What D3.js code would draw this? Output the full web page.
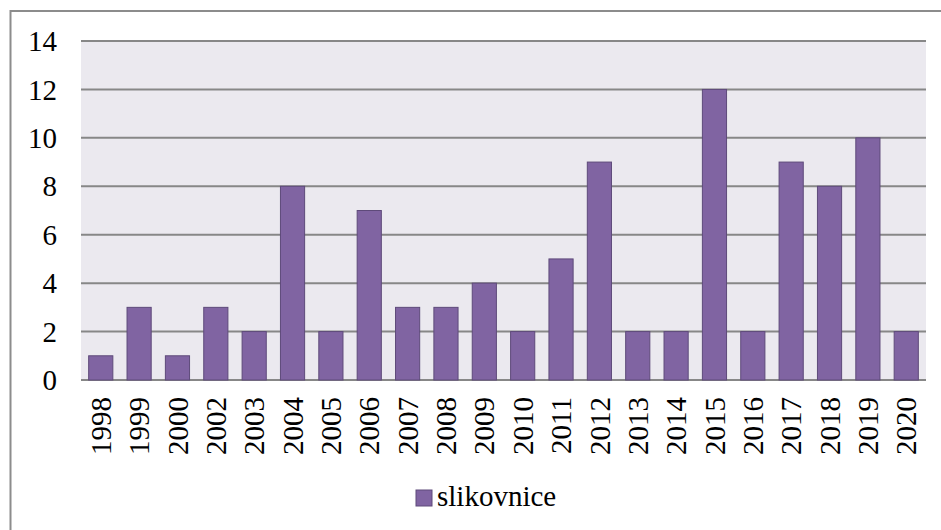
<!DOCTYPE html>
<html>
<head>
<meta charset="utf-8">
<script src="https://cdn.jsdelivr.net/npm/d3@7"></script>
<style>
body { margin: 0; background: #fff; }
svg text { font-family: "Liberation Serif", "Times New Roman", Times, serif; fill: #000; }
</style>
</head>
<body>
<div id="box"></div>
<script>
var years = ["1998", "1999", "2000", "2002", "2003", "2004", "2005", "2006", "2007", "2008", "2009",
             "2010", "2011", "2012", "2013", "2014", "2015", "2016", "2017", "2018", "2019", "2020"];
var counts = [1, 3, 1, 3, 2, 8, 2, 7, 3, 3, 4, 2, 5, 9, 2, 2, 12, 2, 9, 8, 10, 2];
var yTicks = [0, 2, 4, 6, 8, 10, 12, 14];
var seriesName = "slikovnice";

var w = 941,
    h = 530;
var plotLeft = 81, plotRight = 926, plotTop = 41, plotBottom = 380;
var serif = "'Liberation Serif', 'Times New Roman', Times, serif";

var svg = d3.select("#box")
            .append("svg")
            .attr("width", w)
            .attr("height", h)
            .attr("font-family", serif);

// outer chart border (runs off the right and bottom)
svg.append("rect")
   .attr("x", 10.5).attr("y", 11)
   .attr("width", 1000).attr("height", 1000)
   .attr("fill", "none")
   .attr("stroke", "#8c8c8c")
   .attr("stroke-width", 2);

var x = d3.scaleBand()
          .domain(years)
          .range([plotLeft, plotRight])
          .paddingInner(0.37)
          .paddingOuter(0.2);

var y = d3.scaleLinear()
          .domain([0, 14])
          .range([plotBottom, plotTop]);

svg.append("rect")
   .attr("x", plotLeft).attr("y", plotTop)
   .attr("width", plotRight - plotLeft).attr("height", plotBottom - plotTop)
   .attr("fill", "#ebe9ef");

svg.selectAll("line.grid")
   .data(yTicks)
   .enter()
   .append("line")
   .attr("class", "grid")
   .attr("x1", plotLeft).attr("x2", plotRight)
   .attr("y1", function(d) { return y(d); })
   .attr("y2", function(d) { return y(d); })
   .attr("stroke", "#878787")
   .attr("stroke-width", 2);

svg.selectAll("text.ylab")
   .data(yTicks)
   .enter()
   .append("text")
   .attr("class", "ylab")
   .attr("x", 57)
   .attr("y", function(d) { return y(d); })
   .attr("dy", "0.35em")
   .attr("text-anchor", "end")
   .attr("font-size", "29px")
   .text(function(d) { return d; });

svg.selectAll("rect.bar")
   .data(counts)
   .enter()
   .append("rect")
   .attr("class", "bar")
   .attr("x", function(d, i) { return x(years[i]); })
   .attr("y", function(d) { return y(d); })
   .attr("width", x.bandwidth())
   .attr("height", function(d) { return plotBottom - y(d); })
   .attr("fill", "#8064a2")
   .attr("stroke", "#5e4a7a")
   .attr("stroke-width", 1);

svg.selectAll("text.xlab")
   .data(years)
   .enter()
   .append("text")
   .attr("class", "xlab")
   .attr("transform", function(d) {
     return "translate(" + (x(d) + x.bandwidth() / 2) + "," + 397 + ") rotate(-90)";
   })
   .attr("dy", "0.35em")
   .attr("text-anchor", "end")
   .attr("font-size", "29px")
   .text(function(d) { return d; });

// legend
svg.append("rect")
   .attr("x", 416).attr("y", 490)
   .attr("width", 16).attr("height", 16)
   .attr("fill", "#8064a2")
   .attr("stroke", "#5e4a7a");

svg.append("text")
   .attr("x", 437).attr("y", 506)
   .attr("font-size", "29px")
   .text(seriesName);
</script>
</body>
</html>
